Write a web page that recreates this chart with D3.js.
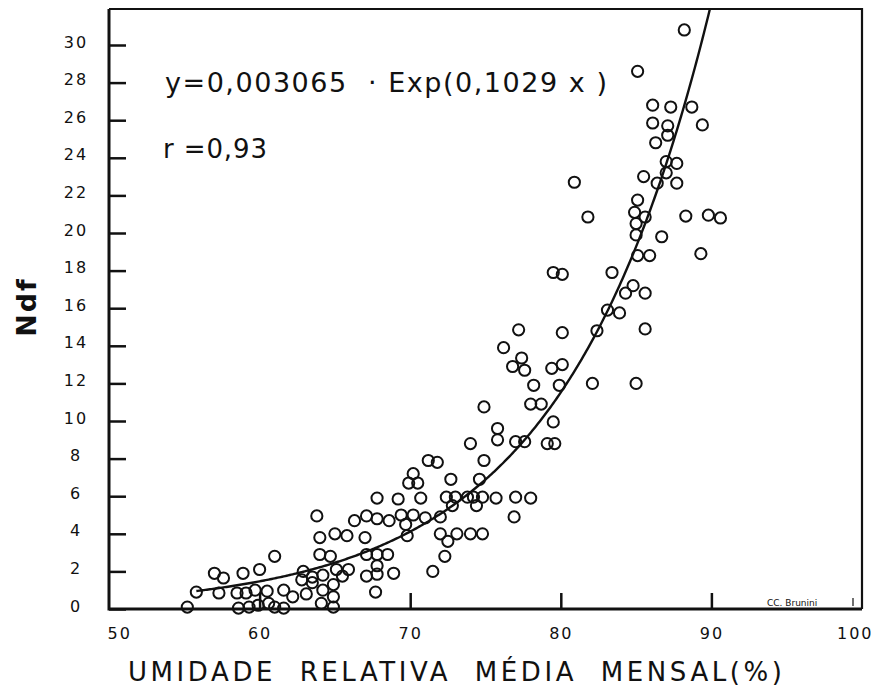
<!DOCTYPE html>
<html>
<head>
<meta charset="utf-8">
<script src="https://cdn.jsdelivr.net/npm/d3@7"></script>
<style>
  body { margin: 0; background: #fff; }
  svg { display: block; }
  text { font-family: "DejaVu Sans", sans-serif; fill: #111; }
</style>
</head>
<body>
<svg id="chart" width="878" height="695"></svg>
<script>
// umidade relativa média mensal (%) and Ndf
const umidade = [
  55.2, 55.8, 57.0, 57.6, 57.3, 58.9, 60.0, 61.0, 58.5, 59.1,
  59.7, 60.5, 58.6, 59.3, 59.9, 60.6, 61.0, 61.6, 61.6, 62.2,
  62.9, 62.8, 63.5, 63.5, 63.1, 63.8, 64.0, 64.0, 64.7, 64.2,
  64.2, 64.1, 64.9, 64.9, 64.9, 65.0, 65.8, 65.1, 65.5, 65.9,
  66.3, 67.1, 67.8, 68.6, 67.8, 69.2, 67.0, 67.1, 67.8, 68.5,
  67.8, 67.1, 67.8, 68.9, 67.7, 69.4, 69.7, 70.2, 69.8, 70.2,
  69.9, 70.5, 70.7, 71.2, 71.8, 72.7, 74.6, 72.4, 73.0, 73.8,
  74.2, 74.8, 75.7, 77.0, 78.0, 72.8, 74.4, 71.0, 72.0, 72.0,
  72.5, 73.1, 74.0, 74.8, 76.9, 72.3, 71.5, 74.9, 74.0, 75.8,
  75.8, 77.0, 77.6, 79.1, 79.6, 79.5, 74.9, 78.0, 78.7, 78.2,
  79.9, 82.1, 85.0, 76.2, 77.4, 76.8, 77.6, 79.4, 80.1, 77.2,
  80.1, 82.4, 85.6, 79.5, 80.1, 83.4, 83.1, 83.9, 84.8, 84.3,
  85.6, 80.9, 81.8, 85.1, 85.9, 89.3, 85.0, 86.7, 85.0, 84.9,
  85.6, 85.1, 88.3, 89.8, 90.6, 85.5, 86.4, 87.7, 87.0, 87.0,
  87.7, 86.3, 87.1, 86.1, 87.1, 89.4, 86.1, 87.3, 88.7, 85.1,
  88.2
];
const ndf = [
  0.1, 0.9, 1.9, 1.65, 0.85, 1.9, 2.1, 2.8, 0.85, 0.85,
  1.0, 0.95, 0.05, 0.1, 0.2, 0.3, 0.1, 1.0, 0.05, 0.65,
  2.0, 1.55, 1.7, 1.4, 0.8, 4.95, 3.8, 2.9, 2.8, 1.8,
  1.0, 0.3, 0.65, 0.1, 1.3, 4.0, 3.9, 2.1, 1.75, 2.1,
  4.7, 4.95, 4.8, 4.7, 5.9, 5.85, 3.8, 2.9, 2.9, 2.9,
  2.3, 1.75, 1.85, 1.9, 0.9, 5.0, 4.5, 5.0, 3.9, 7.2,
  6.7, 6.7, 5.9, 7.9, 7.8, 6.9, 6.9, 5.95, 5.95, 5.95,
  5.95, 5.95, 5.9, 5.95, 5.9, 5.5, 5.5, 4.85, 4.9, 4.0,
  3.6, 4.0, 4.0, 4.0, 4.9, 2.8, 2.0, 7.9, 8.8, 9.6,
  9.0, 8.9, 8.9, 8.8, 8.8, 9.95, 10.75, 10.9, 10.9, 11.9,
  11.9, 12.0, 12.0, 13.9, 13.35, 12.9, 12.7, 12.8, 13.0, 14.85,
  14.7, 14.8, 14.9, 17.9, 17.8, 17.9, 15.9, 15.75, 17.2, 16.8,
  16.8, 22.7, 20.85, 18.8, 18.8, 18.9, 19.9, 19.8, 20.5, 21.1,
  20.85, 21.75, 20.9, 20.95, 20.8, 23.0, 22.65, 22.65, 23.2, 23.8,
  23.7, 24.8, 25.2, 25.85, 25.7, 25.75, 26.8, 26.7, 26.7, 28.6,
  30.8
];
const xTicks = [50, 60, 70, 80, 90, 100];
const yTicks = [0, 2, 4, 6, 8, 10, 12, 14, 16, 18, 20, 22, 24, 26, 28, 30];

// fitted curve printed on the figure: y = a * exp(b x)
const fitA = 0.003065;
const fitB = 0.1029;
const fitStart = 55.8;

const equationText = "y=0,003065  · Exp(0,1029 x )";
const rText = "r =0,93";
const xTitle = "UMIDADE  RELATIVA  MÉDIA  MENSAL(%)";
const yTitle = "Ndf";

const svg = d3.select("#chart");
const frame = { left: 109, right: 862, top: 9, bottom: 609 };

const x = d3.scaleLinear().domain([50, 100]).range([frame.left, frame.right]);
const y = d3.scaleLinear().domain([0, 30]).range([frame.bottom, 45]);

//Frame
svg.append("path")
  .attr("fill", "none")
  .attr("stroke", "#111")
  .attr("stroke-width", 2.2)
  .attr("d", `M${frame.left},${frame.top}H${frame.right}V${frame.bottom}`);
svg.append("path")
  .attr("fill", "none")
  .attr("stroke", "#111")
  .attr("stroke-width", 3)
  .attr("d", `M${frame.left},${frame.top}V${frame.bottom}H${frame.right}`);

//Y axis (inner ticks)
const yAxis = svg.append("g")
  .attr("transform", `translate(${frame.left},0)`)
  .call(d3.axisLeft(y).tickValues(yTicks).tickSize(-17).tickPadding(0));
yAxis.select(".domain").remove();
yAxis.selectAll(".tick line").attr("stroke", "#111").attr("stroke-width", 2.5);
yAxis.selectAll(".tick text")
  .attr("x", -33)
  .attr("dy", "0.32em")
  .attr("y", -3)
  .attr("text-anchor", "middle")
  .style("font-size", "16px")
  .style("letter-spacing", "2px")
  .style("fill", "#111");

//X axis (inner ticks)
const xAxis = svg.append("g")
  .attr("transform", `translate(0,${frame.bottom})`)
  .call(d3.axisBottom(x).tickValues(xTicks).tickSize(-16).tickPadding(0));
xAxis.select(".domain").remove();
xAxis.selectAll(".tick line")
  .attr("stroke", "#111")
  .attr("stroke-width", 2.5)
  .style("display", (d) => (d === 50 || d === 100) ? "none" : null);
xAxis.selectAll(".tick text")
  .attr("y", 25)
  .attr("dy", "0.32em")
  .attr("text-anchor", (d) => d === 50 ? "start" : d === 100 ? "end" : "middle")
  .attr("dx", (d) => d === 50 ? -2 : d === 100 ? 11 : 0)
  .style("font-size", "16px")
  .style("letter-spacing", "2px")
  .style("fill", "#111");

//Axis titles
svg.append("text")
  .attr("transform", "translate(36,307) rotate(-90)")
  .attr("text-anchor", "middle")
  .style("font-size", "27px")
  .style("font-weight", "bold")
  .style("letter-spacing", "2px")
  .text(yTitle);

svg.append("text")
  .attr("x", 128)
  .attr("y", 681)
  .attr("textLength", 654)
  .attr("lengthAdjust", "spacing")
  .style("font-size", "26px")
  .style("white-space", "pre")
  .text(xTitle);

//Annotations
svg.append("text")
  .attr("x", 165)
  .attr("y", 92)
  .attr("textLength", 442)
  .attr("lengthAdjust", "spacing")
  .style("font-size", "27px")
  .style("white-space", "pre")
  .text(equationText);

svg.append("text")
  .attr("x", 163)
  .attr("y", 158)
  .attr("textLength", 104)
  .attr("lengthAdjust", "spacing")
  .style("font-size", "26px")
  .style("white-space", "pre")
  .text(rText);

svg.append("text")
  .attr("x", 767)
  .attr("y", 606)
  .style("font-size", "9px")
  .text("CC. Brunini");
svg.append("path")
  .attr("fill", "none")
  .attr("stroke", "#111")
  .attr("stroke-width", 1.2)
  .attr("d", `M853,598V606`);

//Fitted curve
const xEnd = Math.log(y.invert(frame.top) / fitA) / fitB;
const curveXs = d3.range(fitStart, xEnd, 0.1).concat([xEnd]);
svg.append("path")
  .datum(curveXs)
  .attr("fill", "none")
  .attr("stroke", "#111")
  .attr("stroke-width", 2.4)
  .attr("d", d3.line()
    .x((d) => x(d))
    .y((d) => y(fitA * Math.exp(fitB * d))));

//Points
svg.append("g")
  .selectAll("circle")
  .data(d3.zip(umidade, ndf))
  .join("circle")
  .attr("cx", (d) => x(d[0]))
  .attr("cy", (d) => y(d[1]))
  .attr("r", 5.6)
  .attr("fill", "none")
  .attr("stroke", "#111")
  .attr("stroke-width", 2);
</script>
</body>
</html>
